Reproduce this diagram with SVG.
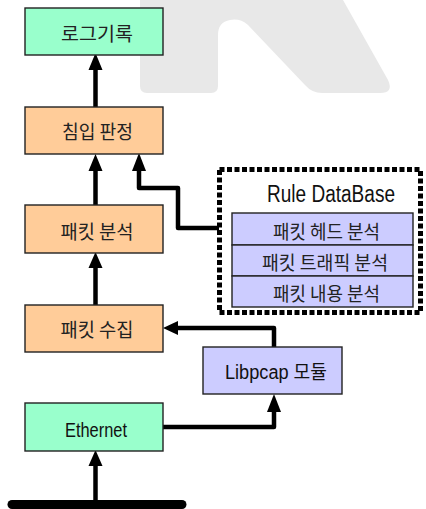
<svg xmlns="http://www.w3.org/2000/svg" width="426" height="509" viewBox="0 0 426 509">
<defs>
<style>
.box{stroke:#222;stroke-width:1.4}
.g{fill:#99FFCC}
.o{fill:#FFCC99}
.p{fill:#CCCCFF}
.kt{font-family:"Noto Sans CJK KR","Liberation Sans",sans-serif;font-size:19px;fill:#222;text-anchor:middle}
.lt{font-family:"Liberation Sans","Noto Sans CJK KR",sans-serif;fill:#111;text-anchor:middle}
.ln{fill:none;stroke:#000;stroke-width:4.5;stroke-linejoin:round}
.ah{fill:#000}
</style>
</defs>
<rect width="426" height="509" fill="#fff"/>
<path d="M140 0 H343 L388 80 Q394 93 380 93 H322 Q312 93 305 85 L248 25 Q240 18 230 20 Q218 22 218 35 V86 Q218 93 211 93 H147 Q140 93 140 86 Z" fill="#e8e8e8"/>
<g id="connectors">
<path class="ln" d="M95.5 107 V68"/>
<polygon class="ah" points="95.5,53 88.5,70 102.5,70"/>
<path class="ln" d="M95.5 205 V169"/>
<polygon class="ah" points="95.5,154 88.5,171 102.5,171"/>
<path class="ln" d="M95.5 305 V266"/>
<polygon class="ah" points="95.5,252 88.5,268 102.5,268"/>
<path class="ln" d="M95.5 501 V463"/>
<polygon class="ah" points="95.5,450 88.5,466 102.5,466"/>
<path class="ln" d="M219 228 H178 V188 H139 V169"/>
<polygon class="ah" points="139,153 132,171 146,171"/>
<path class="ln" d="M163 427 H274 V410"/>
<polygon class="ah" points="274,394 267,412 281,412"/>
<path class="ln" d="M274 347 V328 H175"/>
<polygon class="ah" points="163,328 178,321 178,335"/>
<line x1="12" y1="504.5" x2="182" y2="504.5" stroke="#000" stroke-width="9" stroke-linecap="round"/>
</g>
<g id="log">
<rect class="box g" x="25" y="8" width="138" height="47"/>
<text class="kt" x="97" y="41" textLength="72" lengthAdjust="spacingAndGlyphs">로그기록</text>
</g>
<g id="detect">
<rect class="box o" x="25" y="107" width="138" height="47"/>
<text class="kt" x="97.5" y="139" textLength="71" lengthAdjust="spacingAndGlyphs">침입 판정</text>
</g>
<g id="analyze">
<rect class="box o" x="25" y="205" width="138" height="48"/>
<text class="kt" x="97" y="239" textLength="73" lengthAdjust="spacingAndGlyphs">패킷 분석</text>
</g>
<g id="collect">
<rect class="box o" x="25" y="305" width="138" height="47"/>
<text class="kt" x="97" y="337" textLength="73" lengthAdjust="spacingAndGlyphs">패킷 수집</text>
</g>
<g id="ethernet">
<rect class="box g" x="25" y="403" width="138" height="48"/>
<text class="lt" x="96" y="437" font-size="21" textLength="62" lengthAdjust="spacingAndGlyphs">Ethernet</text>
</g>
<g id="libpcap">
<rect class="box p" x="203" y="347" width="139" height="47"/>
<text class="lt" x="276" y="379" font-size="19.5" textLength="102" lengthAdjust="spacingAndGlyphs">Libpcap 모듈</text>
</g>
<g id="ruledb">
<rect x="219.5" y="169.5" width="201" height="143" fill="none" stroke="#000" stroke-width="5" stroke-dasharray="5 2.5"/>
<text class="lt" x="331" y="202" font-size="23.5" textLength="128" lengthAdjust="spacingAndGlyphs">Rule DataBase</text>
<rect class="box p" x="232" y="213" width="181" height="32"/>
<text class="kt" x="326.5" y="239" textLength="107" lengthAdjust="spacingAndGlyphs">패킷 헤드 분석</text>
<rect class="box p" x="232" y="245" width="181" height="31"/>
<text class="kt" x="325" y="270" textLength="126" lengthAdjust="spacingAndGlyphs">패킷 트래픽 분석</text>
<rect class="box p" x="232" y="276" width="181" height="31"/>
<text class="kt" x="326.5" y="301" textLength="107" lengthAdjust="spacingAndGlyphs">패킷 내용 분석</text>
</g>
</svg>
